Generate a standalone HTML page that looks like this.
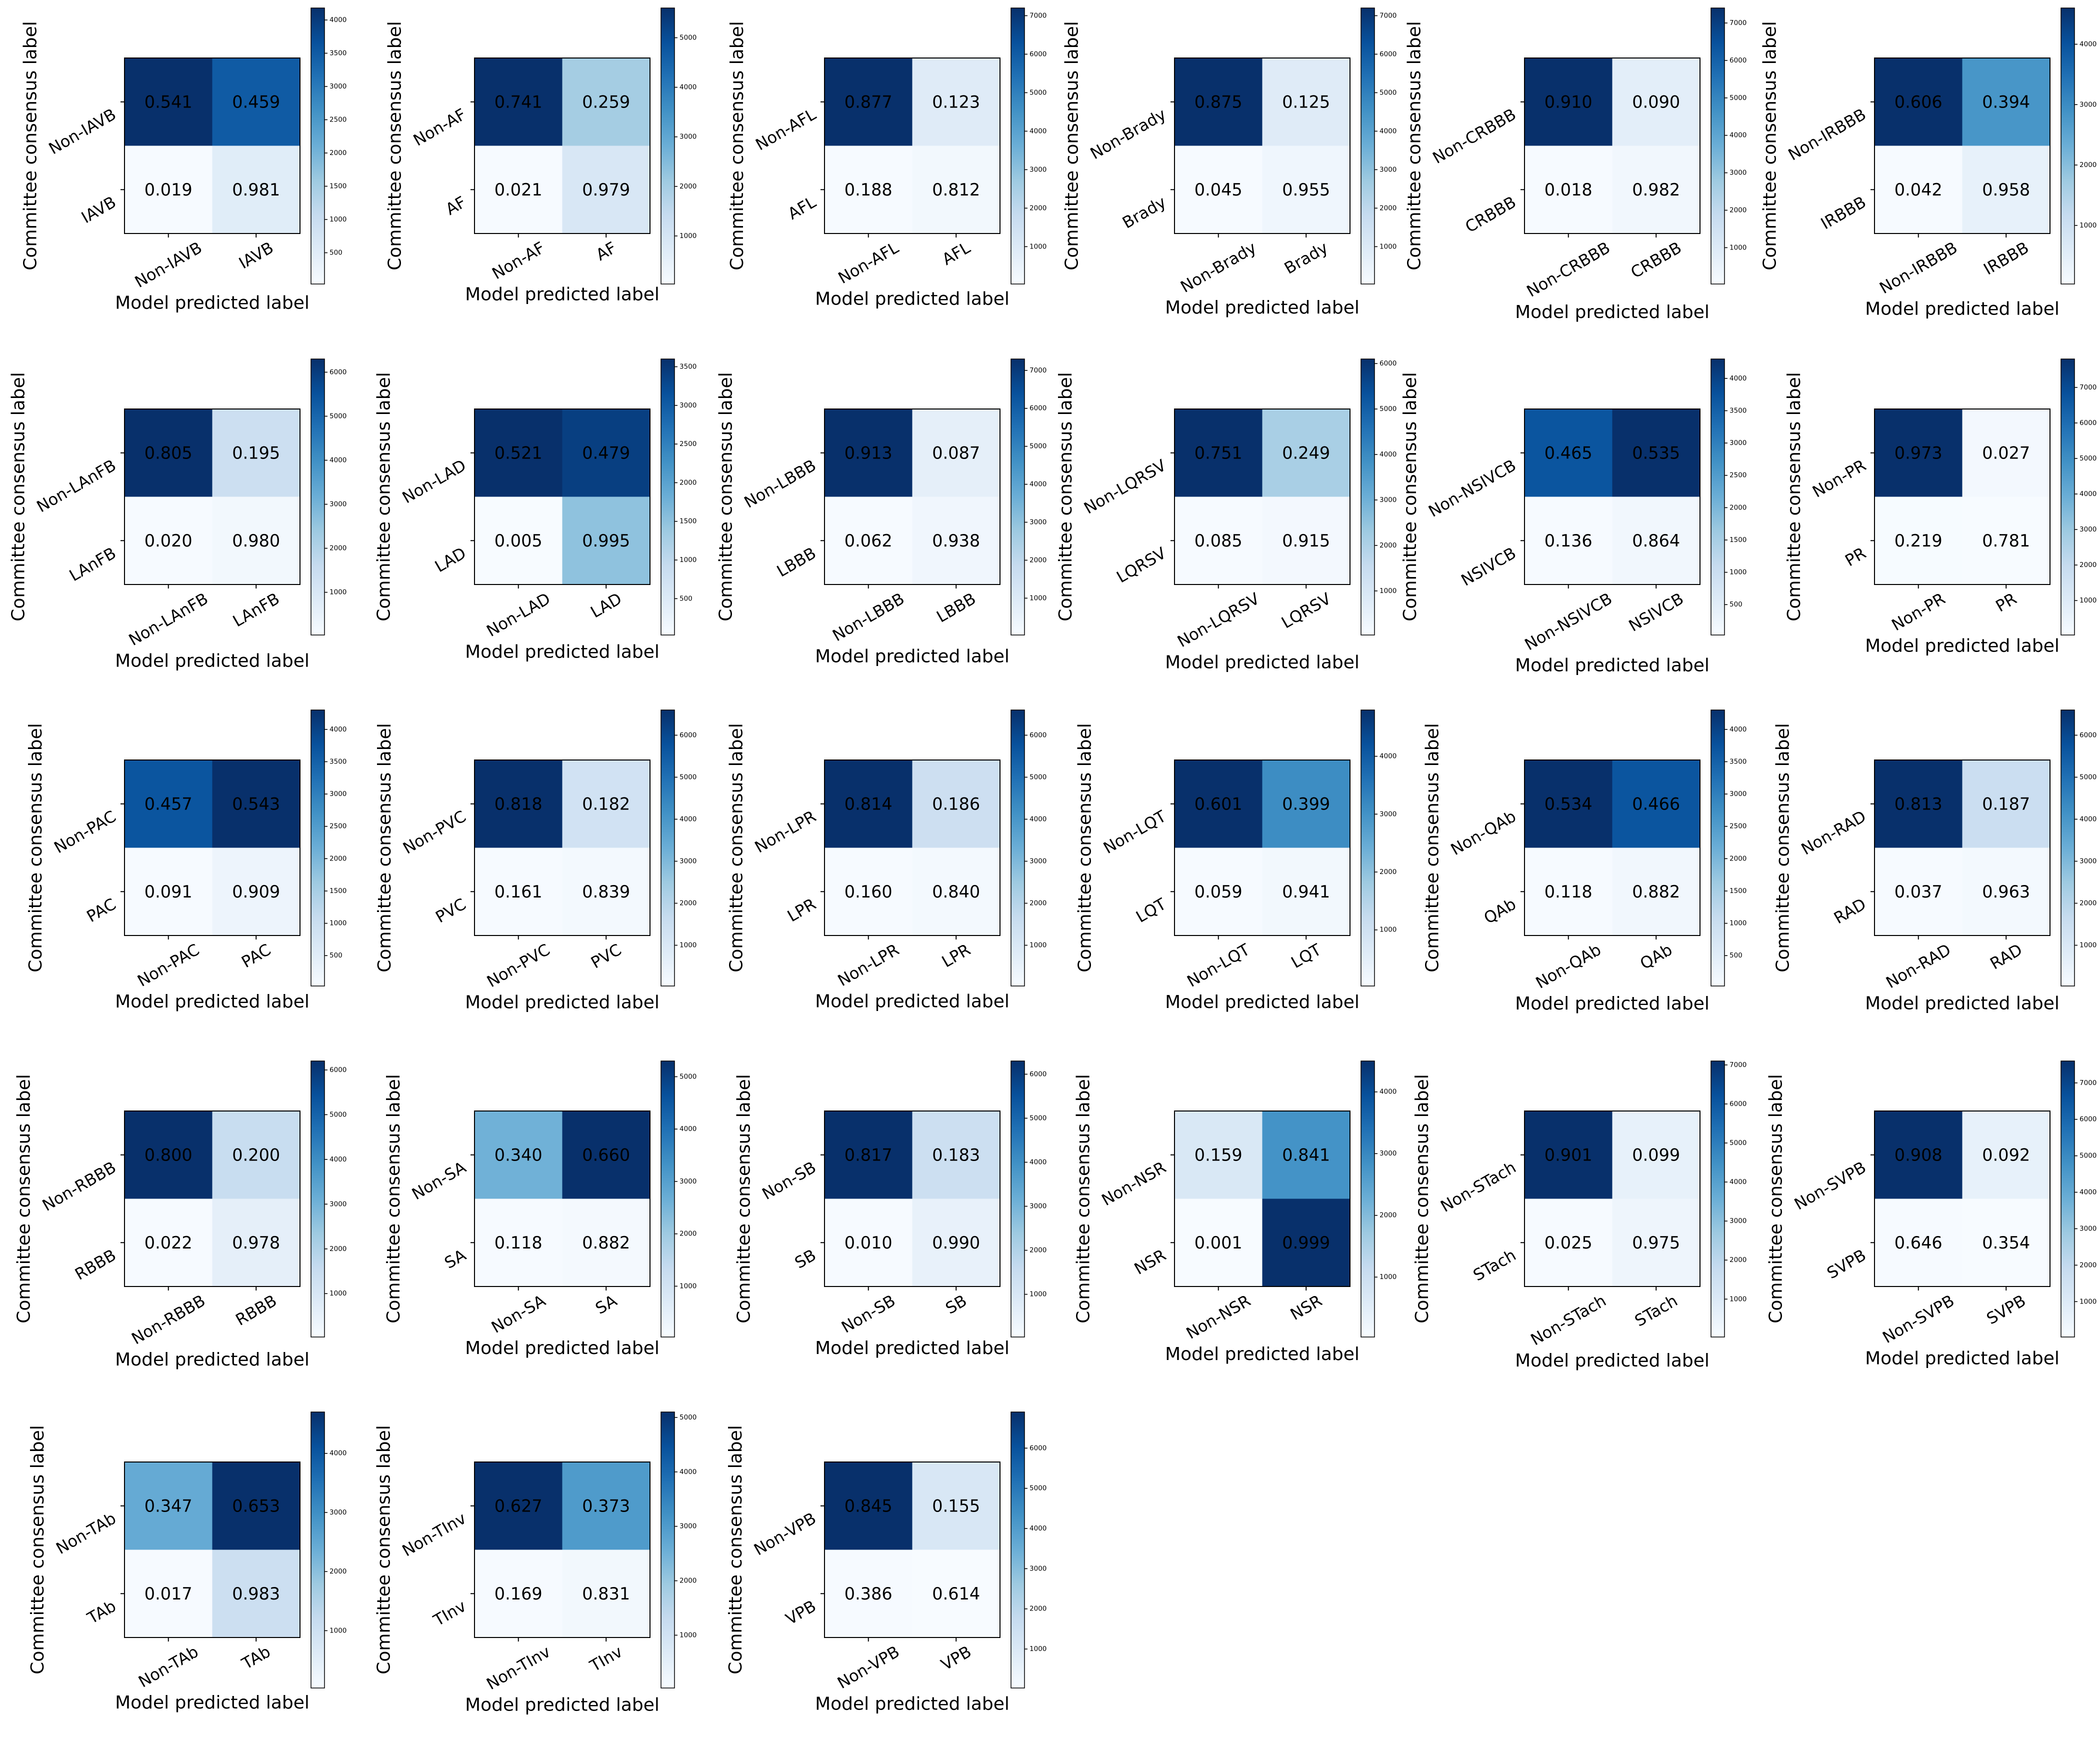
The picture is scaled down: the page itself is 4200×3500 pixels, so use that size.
<!DOCTYPE html>
<html><head><meta charset="utf-8">
<style>
html,body{margin:0;padding:0;background:#fff;}
svg{display:block;font-family:"DejaVu Sans","Liberation Sans",sans-serif;}
</style></head>
<body>
<svg id="fig" width="4200" height="3500" viewBox="0 0 4200 3500" xmlns="http://www.w3.org/2000/svg">
<rect width="4200" height="3500" fill="#fff"/>
</svg>
<script>
const classNames = ["IAVB","AF","AFL","Brady","CRBBB","IRBBB","LAnFB","LAD","LBBB","LQRSV","NSIVCB","PR","PAC","PVC","LPR","LQT","QAb","RAD","RBBB","SA","SB","NSR","STach","SVPB","TAb","TInv","VPB"];
const normValues = [
 [0.541,0.459,0.019,0.981],[0.741,0.259,0.021,0.979],[0.877,0.123,0.188,0.812],[0.875,0.125,0.045,0.955],[0.910,0.090,0.018,0.982],[0.606,0.394,0.042,0.958],
 [0.805,0.195,0.020,0.980],[0.521,0.479,0.005,0.995],[0.913,0.087,0.062,0.938],[0.751,0.249,0.085,0.915],[0.465,0.535,0.136,0.864],[0.973,0.027,0.219,0.781],
 [0.457,0.543,0.091,0.909],[0.818,0.182,0.161,0.839],[0.814,0.186,0.160,0.840],[0.601,0.399,0.059,0.941],[0.534,0.466,0.118,0.882],[0.813,0.187,0.037,0.963],
 [0.800,0.200,0.022,0.978],[0.340,0.660,0.118,0.882],[0.817,0.183,0.010,0.990],[0.159,0.841,0.001,0.999],[0.901,0.099,0.025,0.975],[0.908,0.092,0.646,0.354],
 [0.347,0.653,0.017,0.983],[0.627,0.373,0.169,0.831],[0.845,0.155,0.386,0.614]];
const cellCounts = [
 [4180,3500,60,500],[5600,2000,60,900],[7200,900,60,200],[7200,900,60,300],[7400,750,60,250],[4600,2800,60,400],
 [6300,1400,60,200],[3600,3400,20,1500],[7300,700,60,300],[6100,2100,60,150],[3700,4300,60,150],[7800,200,60,30],
 [3700,4300,60,250],[6600,1300,60,150],[6600,1450,60,150],[4800,3100,60,150],[4300,3700,60,150],[6600,1500,60,150],
 [6200,1500,60,600],[2600,5300,60,100],[6300,1400,60,500],[700,2800,10,4500],[7100,600,60,350],[7600,650,60,30],
 [2450,4700,60,1050],[5100,3000,60,150],[6900,1100,60,30]];
const colorMax = [4180,5600,7200,7200,7400,4600,6300,3600,7300,6100,4300,7800,4300,6600,6600,4800,4300,6600,6200,5300,6300,4500,7100,7600,4700,5100,6900];
const colorMin = 30;

const NS="http://www.w3.org/2000/svg";
const svg=document.getElementById('fig');
const blues=["#f7fbff","#deebf7","#c6dbef","#9ecae1","#6baed6","#4292c6","#2171b5","#08519c","#08306b"];
function hex(h){return [1,3,5].map(i=>parseInt(h.substr(i,2),16));}
function cmap(t){t=Math.max(0,Math.min(1,t));const p=t*8;const i=Math.min(7,Math.floor(p));const f=p-i;
 const a=hex(blues[i]),b=hex(blues[i+1]);return 'rgb('+a.map((v,k)=>Math.round(v+(b[k]-v)*f)).join(',')+')';}
const cv=document.createElement('canvas').getContext('2d');
function tw(s,fs){cv.font=fs+'px "DejaVu Sans"';return cv.measureText(s).width;}
function el(tag,attrs,parent){const e=document.createElementNS(NS,tag);for(const k in attrs)e.setAttribute(k,attrs[k]);(parent||svg).appendChild(e);return e;}

const TICKFS=32, CELLFS=33.5, AXFS=36, CBFS=13.5;
const S=351, CB_W=27, CB_H=552;
const cos30=Math.cos(Math.PI/6), sin30=0.5;
classNames.forEach((nm,idx)=>{
 const c=idx%6, r=Math.floor(idx/6);
 const ox=c*700, oy=r*702;
 const mx=ox+249, my=oy+116;
 const g=el('g',{});
 
 
 const vmax=colorMax[idx];
 const labels=['Non-'+nm,nm];
 for(let i=0;i<2;i++)for(let j=0;j<2;j++){
  const k=i*2+j;
  const rc=el('rect',{x:mx+j*S/2,y:my+i*S/2,width:S/2,height:S/2,fill:cmap((cellCounts[idx][k]-colorMin)/(vmax-colorMin))},g);
  
  
  const t=el('text',{x:mx+j*S/2+S/4,y:my+i*S/2+S/4,'font-size':CELLFS,'text-anchor':'middle','dominant-baseline':'central',fill:'#000'},g);
  t.textContent=normValues[idx][k].toFixed(3);
  
  
 }
 el('rect',{x:mx,y:my,width:S,height:S,fill:'none',stroke:'#000','stroke-width':2},g);
 let minLeft=mx;
 for(let i=0;i<2;i++){
  const ty=my+S/4+i*S/2;
  el('line',{x1:mx,x2:mx-8,y1:ty,y2:ty,stroke:'#000','stroke-width':2},g);
  const ax=mx-20, ay=ty+22;
  const t=el('text',{x:ax,y:ay,'font-size':TICKFS,'text-anchor':'end','dominant-baseline':'central',transform:`rotate(-30 ${ax} ${ay})`},g);
  t.textContent=labels[i];
  
  
  const w=tw(labels[i],TICKFS);
  minLeft=Math.min(minLeft, ax - w*cos30 - 0.73*TICKFS*sin30/2);
 }
 let maxBottom=my+S;
 for(let j=0;j<2;j++){
  const tx=mx+S/4+j*S/2;
  el('line',{x1:tx,x2:tx,y1:my+S,y2:my+S+8,stroke:'#000','stroke-width':2},g);
  const w=tw(labels[j],TICKFS), h=0.75*TICKFS;
  const H=w*sin30+h*cos30;
  const cy=my+S+15+H/2;
  const t=el('text',{x:tx,y:cy,'font-size':TICKFS,'text-anchor':'middle','dominant-baseline':'central',transform:`rotate(-30 ${tx} ${cy})`},g);
  t.textContent=labels[j];
  
  
  maxBottom=Math.max(maxBottom,my+S+15+H);
 }
 const xl=el('text',{x:mx+S/2,y:maxBottom+14+0.73*AXFS,'font-size':AXFS,'text-anchor':'middle'},g);
 xl.textContent='Model predicted label';
 
 
 const yx=minLeft-22, yy=my+S/2;
 const yl=el('text',{x:yx,y:yy,'font-size':AXFS,'text-anchor':'middle',transform:`rotate(-90 ${yx} ${yy})`},g);
 yl.textContent='Committee consensus label';
 
 
 const cx=ox+622, cy0=oy+16;
 const gid='grad'+idx;
 const lg=el('linearGradient',{id:gid,x1:0,y1:1,x2:0,y2:0},g);
 blues.forEach((b,i)=>el('stop',{offset:(i/8),'stop-color':b},lg));
 const cb=el('rect',{x:cx,y:cy0,width:CB_W,height:CB_H,fill:`url(#${gid})`,stroke:'#000','stroke-width':1.5},g);
 
 
 const step=vmax<4500?500:1000;
 for(let v=step; v<=vmax; v+=step){
  const yy2=cy0+CB_H-(v-colorMin)/(vmax-colorMin)*CB_H;
  el('line',{x1:cx+CB_W,x2:cx+CB_W+6,y1:yy2,y2:yy2,stroke:'#000','stroke-width':1.5},g);
  const t=el('text',{x:cx+CB_W+10,y:yy2,'font-size':CBFS,'dominant-baseline':'central'},g);
  t.textContent=String(v);
  
  
 }
});
</script>
</body></html>
